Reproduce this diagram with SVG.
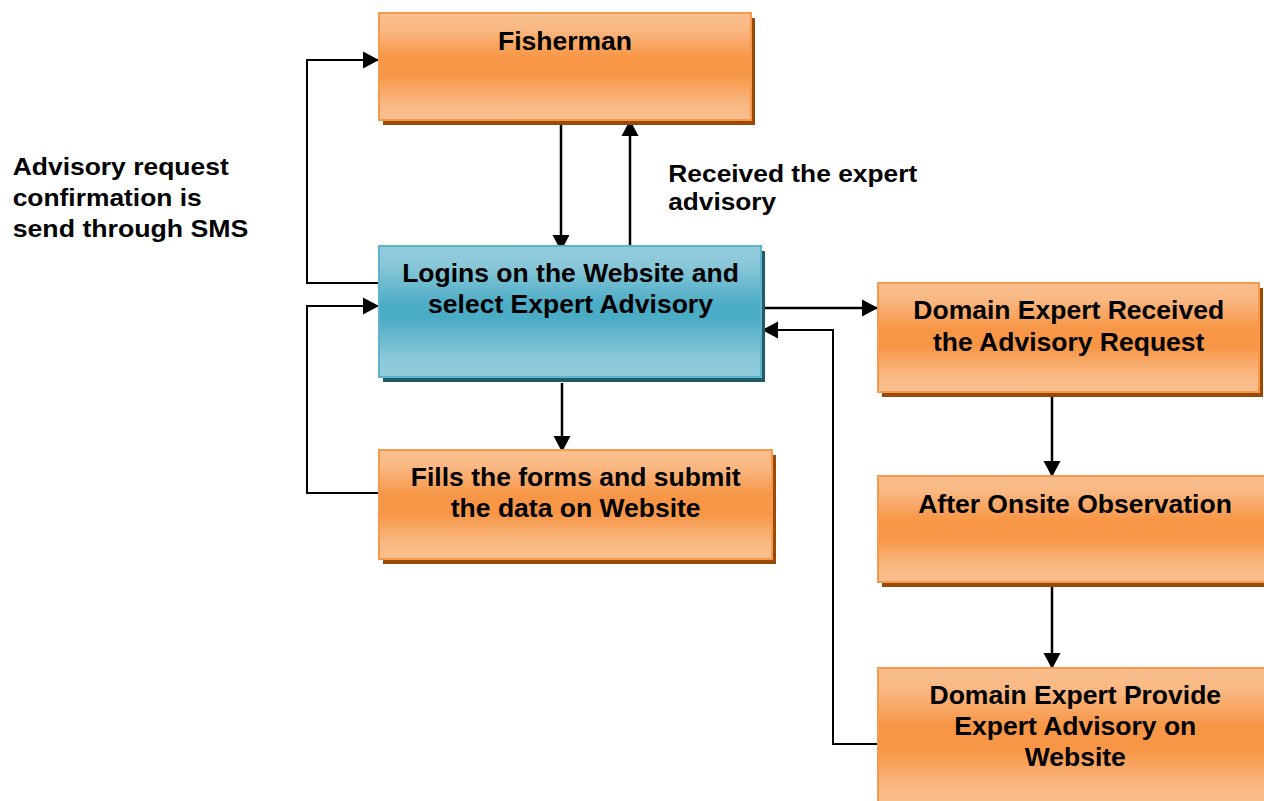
<svg xmlns="http://www.w3.org/2000/svg" width="1264" height="801" viewBox="0 0 1264 801">
<defs>
<linearGradient id="gOr" x1="0" y1="0" x2="0" y2="1">
<stop offset="0" stop-color="#F9BF8F"/>
<stop offset="0.15" stop-color="#F9B883"/>
<stop offset="0.42" stop-color="#F79646"/>
<stop offset="0.58" stop-color="#F79646"/>
<stop offset="0.85" stop-color="#F9B883"/>
<stop offset="1" stop-color="#F9BF8F"/>
</linearGradient>
<linearGradient id="gBl" x1="0" y1="0" x2="0" y2="1">
<stop offset="0" stop-color="#93CDDD"/>
<stop offset="0.15" stop-color="#89C7D8"/>
<stop offset="0.45" stop-color="#4BACC6"/>
<stop offset="0.55" stop-color="#4BACC6"/>
<stop offset="0.85" stop-color="#89C7D8"/>
<stop offset="1" stop-color="#93CDDD"/>
</linearGradient>
<marker id="ah" markerUnits="userSpaceOnUse" markerWidth="18" markerHeight="18" refX="16" refY="9" orient="auto" viewBox="0 0 18 18">
<path d="M0,0.5 L16,9 L0,17.5 Z" fill="#000"/>
</marker>
</defs>
<style>
.or{fill:url(#gOr);stroke:#F6994C;stroke-width:2}
.bl{fill:url(#gBl);stroke:#5FB3CA;stroke-width:2}
.shOr{fill:#9A4A08}
.shBl{fill:#215A69}
.t{font-family:"Liberation Sans",Arial,sans-serif;font-weight:bold;font-size:26.5px;fill:#000;text-anchor:middle}
.lb{font-family:"Liberation Sans",Arial,sans-serif;font-weight:bold;font-size:23.5px;fill:#000}
.c{fill:none;stroke:#000;stroke-width:2.5}
.cl{fill:none;stroke:#000;stroke-width:2}
</style>

<g id="connectors">
<line class="c" x1="561" y1="125" x2="561" y2="251" marker-end="url(#ah)"/>
<line class="c" x1="630" y1="246" x2="630" y2="120" marker-end="url(#ah)"/>
<polyline class="cl" points="379,283 307,283 307,60 379,60" marker-end="url(#ah)"/>
<polyline class="cl" points="379,493 307,493 307,306 379,306" marker-end="url(#ah)"/>
<line class="c" x1="761" y1="308" x2="878" y2="308" marker-end="url(#ah)"/>
<polyline class="cl" points="878,744 833,744 833,330 762,330" marker-end="url(#ah)"/>
<line class="c" x1="562" y1="383" x2="562" y2="452" marker-end="url(#ah)"/>
<line class="c" x1="1052" y1="397" x2="1052" y2="477" marker-end="url(#ah)"/>
<line class="c" x1="1052" y1="585" x2="1052" y2="669" marker-end="url(#ah)"/>
</g>

<g id="fisherman">
<rect class="shOr" x="383" y="18" width="372" height="107"/>
<rect class="or" x="379" y="13" width="372" height="107"/>
<text class="t" x="565" y="50">Fisherman</text>
</g>

<g id="login">
<rect class="shBl" x="383" y="251" width="382" height="131"/>
<rect class="bl" x="379" y="246" width="382" height="131"/>
<text class="t" x="570.5" y="281.7">Logins on the Website and</text>
<text class="t" x="570.5" y="313.3">select Expert Advisory</text>
</g>

<g id="fills">
<rect class="shOr" x="383" y="455" width="393" height="109"/>
<rect class="or" x="379" y="450" width="393" height="109"/>
<text class="t" x="575.7" y="486">Fills the forms and submit</text>
<text class="t" x="575.7" y="517">the data on Website</text>
</g>

<g id="received">
<rect class="shOr" x="882" y="288" width="381" height="109"/>
<rect class="or" x="878" y="283" width="381" height="109"/>
<text class="t" x="1068.7" y="318.7">Domain Expert Received</text>
<text class="t" x="1068.7" y="351">the Advisory Request</text>
</g>

<g id="after">
<rect class="shOr" x="882" y="481" width="392" height="106"/>
<rect class="or" x="878" y="476" width="392" height="106"/>
<text class="t" x="1075" y="513.3">After Onsite Observation</text>
</g>

<g id="provide">
<rect class="shOr" x="882" y="673" width="392" height="140"/>
<rect class="or" x="878" y="668" width="392" height="140"/>
<text class="t" x="1075.3" y="704">Domain Expert Provide</text>
<text class="t" x="1075.3" y="735">Expert Advisory on</text>
<text class="t" x="1075.3" y="766">Website</text>
</g>

<g id="labels">
<text class="lb" x="12.7" y="175" textLength="216" lengthAdjust="spacingAndGlyphs">Advisory request</text>
<text class="lb" x="12.7" y="206" textLength="189" lengthAdjust="spacingAndGlyphs">confirmation is</text>
<text class="lb" x="12.7" y="237" textLength="235.7" lengthAdjust="spacingAndGlyphs">send through SMS</text>
<text class="lb" x="668.3" y="181.7" textLength="249" lengthAdjust="spacingAndGlyphs">Received the expert</text>
<text class="lb" x="668.3" y="210" textLength="107.7" lengthAdjust="spacingAndGlyphs">advisory</text>
</g>
</svg>
